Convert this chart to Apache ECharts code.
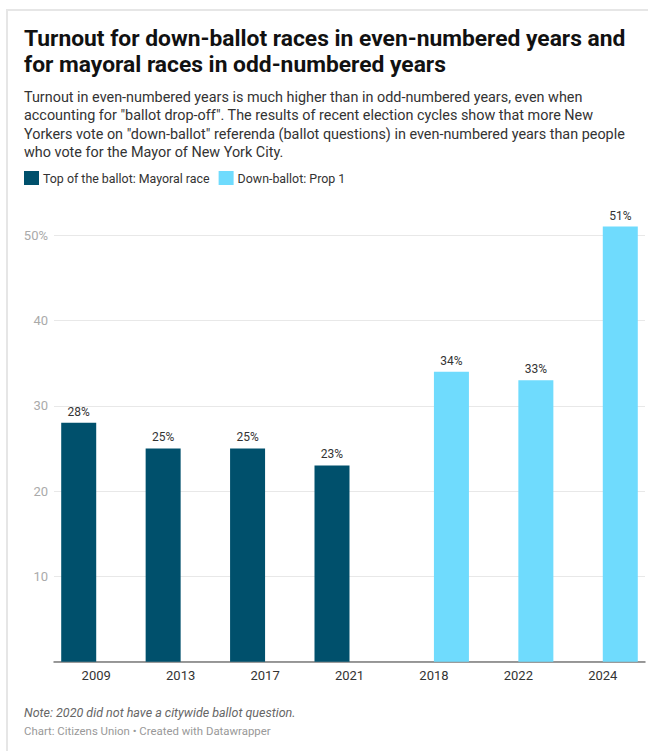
<!DOCTYPE html>
<html>
<head>
<meta charset="utf-8">
<script src="https://cdn.jsdelivr.net/npm/echarts@6/dist/echarts.min.js"></script>
<style>
  html, body { margin: 0; padding: 0; background: #fff; }
  #chart { width: 648px; height: 751px; }
</style>
</head>
<body>
<div id="chart"></div>
<script>
// Election years shown on the x axis
const years = ['2009', '2013', '2017', '2021', '2018', '2022', '2024'];
// Turnout (%) for the mayoral race, odd-numbered years
const mayoralTurnout = [28, 25, 25, 23, null, null, null];
// Turnout (%) for the down-ballot Prop 1 question, even-numbered years
const propTurnout = [null, null, null, null, 34, 33, 51];
// Value-axis ticks
const yTicks = [0, 10, 20, 30, 40, 50];

const seriesNames = ['Top of the ballot: Mayoral race', 'Down-ballot: Prop 1'];
const colors = ['#00506c', '#6fdbfd'];

const titleText = 'Turnout for down-ballot races in even-numbered years and\nfor mayoral races in odd-numbered years';
const descText = [
  'Turnout in even-numbered years is much higher than in odd-numbered years, even when',
  'accounting for "ballot drop-off". The results of recent election cycles show that more New',
  'Yorkers vote on "down-ballot" referenda (ballot questions) in even-numbered years than people',
  'who vote for the Mayor of New York City.'
].join('\n');
const noteText = 'Note: 2020 did not have a citywide ballot question.';
const creditText = 'Chart: Citizens Union \u2022 Created with Datawrapper';

const FONT = 'Roboto, "Noto Sans", sans-serif';

const chart = echarts.init(document.getElementById('chart'), null, { renderer: 'svg' });

const barLabel = {
  show: true,
  position: 'top',
  distance: 5,
  color: '#333',
  fontFamily: FONT,
  fontSize: 12,
  formatter: p => p.value + '%'
};

chart.setOption({
  animation: false,
  backgroundColor: '#fff',
  textStyle: { fontFamily: FONT },
  color: colors,
  title: [
    {
      text: titleText,
      left: 24, top: 25, padding: 0,
      textStyle: { fontFamily: FONT, fontSize: 22.8, fontWeight: 'bold', color: '#111', lineHeight: 26 }
    },
    {
      text: descText,
      left: 24, top: 88.5, padding: 0,
      textStyle: { fontFamily: FONT, fontSize: 14.4, fontWeight: 'normal', color: '#333', lineHeight: 18.3 }
    },
    {
      text: noteText,
      left: 24, top: 706, padding: 0,
      textStyle: { fontFamily: FONT, fontSize: 12.5, fontStyle: 'italic', fontWeight: 'normal', color: '#666' }
    },
    {
      text: creditText,
      left: 24, top: 725, padding: 0,
      textStyle: { fontFamily: FONT, fontSize: 11.4, fontWeight: 'normal', color: '#999' }
    }
  ],
  legend: {
    data: seriesNames,
    left: 24, top: 171, padding: 0,
    icon: 'rect',
    itemWidth: 15, itemHeight: 14, itemGap: 9,
    selectedMode: false,
    textStyle: { fontFamily: FONT, fontSize: 12.4, color: '#333', padding: [0, 0, 0, -1] }
  },
  graphic: [
    {
      type: 'polyline',
      silent: true,
      shape: { points: [[7, 751], [7, 10], [648, 10]] },
      style: { stroke: '#e6e6e6', lineWidth: 2, fill: null }
    }
  ],
  grid: { left: 54, right: 3, top: 192.5, bottom: 89.3, containLabel: false },
  xAxis: {
    type: 'category',
    data: years,
    axisLine: { show: true, lineStyle: { color: '#7a7a7a', width: 1.5 } },
    axisTick: { show: false },
    axisLabel: { color: '#333', fontFamily: FONT, fontSize: 13, margin: 7 }
  },
  yAxis: {
    type: 'value',
    min: yTicks[0],
    max: 55,
    interval: yTicks[1] - yTicks[0],
    axisLine: { show: false },
    axisTick: { show: false },
    splitLine: { show: true, showMaxLine: false, lineStyle: { color: '#e8e8e8', width: 1 } },
    axisLabel: {
      color: '#aaa', fontFamily: FONT, fontSize: 13, margin: 6,
      showMaxLabel: false,
      formatter: v => {
        if (!yTicks.includes(v) || v === 0) return '';
        return v === yTicks[yTicks.length - 1] ? v + '%' : String(v);
      }
    }
  },
  series: [
    {
      name: seriesNames[0],
      type: 'bar',
      data: mayoralTurnout,
      barWidth: 35,
      barGap: '0%',
      itemStyle: { color: colors[0] },
      label: barLabel
    },
    {
      name: seriesNames[1],
      type: 'bar',
      data: propTurnout,
      barWidth: 35,
      barGap: '0%',
      itemStyle: { color: colors[1] },
      label: barLabel
    }
  ]
});
</script>
</body>
</html>
